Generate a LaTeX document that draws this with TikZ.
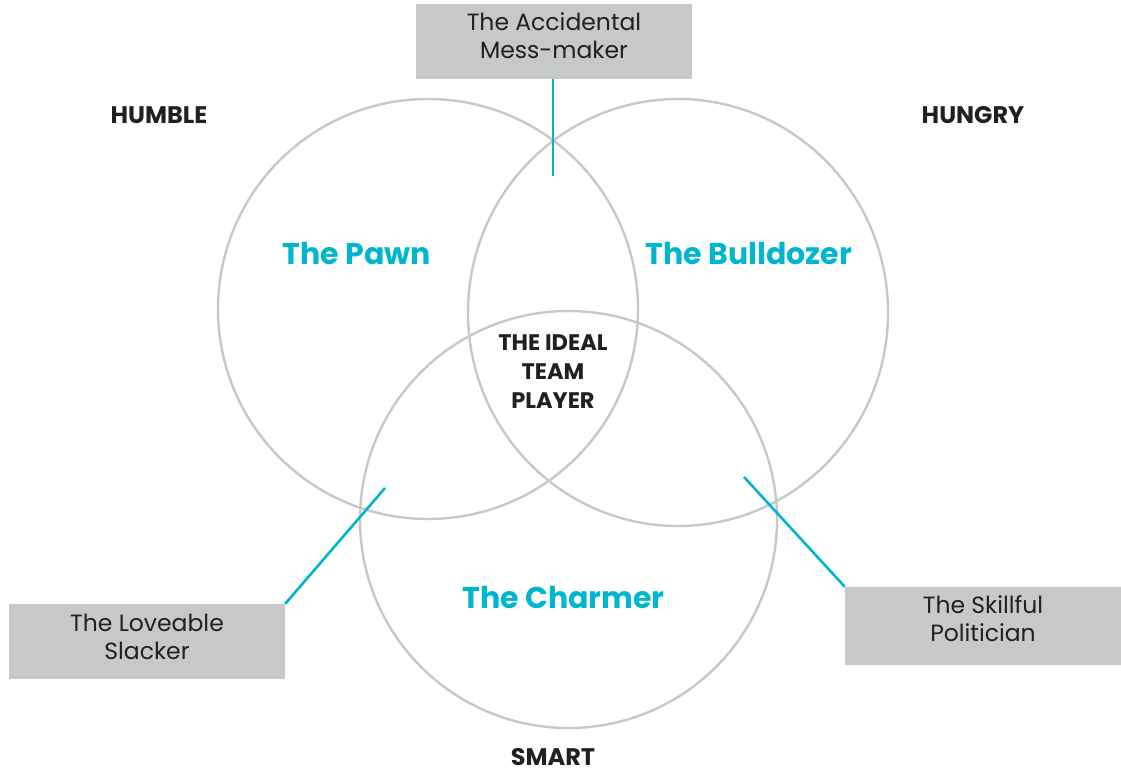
\documentclass[tikz,border=0pt]{standalone}
\usepackage{fontspec}
\setmainfont{Poppins}
\usetikzlibrary{shapes.geometric}
\definecolor{ringgray}{RGB}{200,200,200}
\definecolor{tealcyan}{RGB}{0,182,206}
\definecolor{boxgray}{RGB}{199,200,202}
\definecolor{ink}{RGB}{35,31,32}
\begin{document}
\begin{tikzpicture}[x=1pt,y=-1pt,
  ring/.style={draw=ringgray, line width=2.4pt, circle, inner sep=0pt, fill=none},
  calloutbox/.style={fill=boxgray, inner sep=0pt, minimum width=276pt},
  callouttext/.style={align=center, text=ink, inner sep=0pt,
    font=\fontsize{23.5}{28}\selectfont},
  leader/.style={draw=tealcyan, line width=2.6pt},
  zone/.style={text=tealcyan, font=\fontsize{30}{36}\selectfont\bfseries},
  trait/.style={text=ink, font=\fontsize{24}{28}\selectfont\bfseries},
  core/.style={text=ink, align=center, font=\fontsize{22.5}{29}\selectfont\bfseries}]
\useasboundingbox (0,0) rectangle (1121,776);

% the three overlapping rings
\node[ring, minimum size=420pt] (humble) at (428,309) {};
\node[ring, ellipse, minimum width=420pt, minimum height=427pt] (hungry) at (678,312.5) {};
\node[ring, minimum size=417pt] (smart) at (568.5,519.5) {};

% trait headings
\node[trait] (thumble) at (159,115) {HUMBLE};
\node[trait] (thungry) at (973,115) {HUNGRY};
\node[trait] (tsmart) at (553,757) {SMART};

% region names
\node[zone] (pawn) at (357,254) {The Pawn};
\node[zone] (bulldozer) at (749,254) {The Bulldozer};
\node[zone] (charmer) at (563.5,598) {The Charmer};
\node[core] (ideal) at (553,372) {THE IDEAL\\TEAM\\PLAYER};

% callout boxes
\node[calloutbox, minimum height=75pt] (mess) at (554,41.5) {};
\node[calloutbox, minimum height=75pt] (slacker) at (147,641.5) {};
\node[calloutbox, minimum height=78pt] (politician) at (983,626) {};
\node[callouttext] (messtext) at (554,36) {The Accidental\\Mess-maker};
\node[callouttext] (slackertext) at (147,636.5) {The Loveable\\Slacker};
\node[callouttext] (politiciantext) at (983,619) {The Skillful\\Politician};

% leader lines into the overlaps
\coordinate (messEnd) at (553,176);
\coordinate (slackerEnd) at (385,488);
\coordinate (politicianEnd) at (744,477);
\draw[leader] (mess.south -| messEnd) -- (messEnd);
\draw[leader] (slacker.north east) -- (slackerEnd);
\draw[leader] (politician.north west) -- (politicianEnd);
\end{tikzpicture}
\end{document}
